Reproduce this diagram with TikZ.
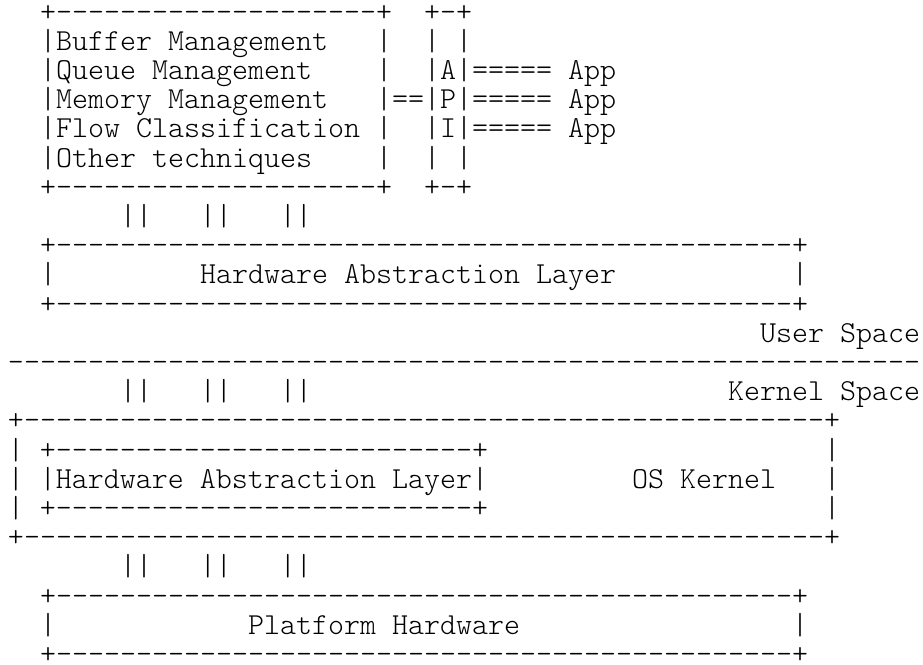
\documentclass[tikz,border=0pt]{standalone}
\usepackage{fontspec}
\newfontfamily\asciifont{lmmonolt10-regular.otf}[Ligatures=TeXOff]
\newlength{\chw}\setlength{\chw}{16pt}
\newcommand{\sk}[1]{\hspace*{#1\chw}}
\tikzset{asc/.style={anchor=base west,inner sep=0pt,outer sep=0pt,font=\asciifont\fontsize{30.48pt}{29.2pt}\selectfont}}
\begin{document}
\begin{tikzpicture}[x=1pt,y=1pt,yscale=-1,xscale=1]
\useasboundingbox (0,0) rectangle (923,664);

% Management box and API
\draw (40,21.0) node [asc] (row0) {+--------------------+\sk{2}+-+};
\draw (40,50.2) node [asc] (row1) {|Buffer Management\sk{3}|\sk{2}|\sk{1}|};
\draw (40,79.4) node [asc] (row2) {|Queue Management\sk{4}|\sk{2}|A|===== App};
\draw (40,108.6) node [asc] (row3) {|Memory Management\sk{3}|==|P|===== App};
\draw (40,137.8) node [asc] (row4) {|Flow Classification\sk{1}|\sk{2}|I|===== App};
\draw (40,167.0) node [asc] (row5) {|Other techniques\sk{4}|\sk{2}|\sk{1}|};
\draw (40,196.2) node [asc] (row6) {+--------------------+\sk{2}+-+};
% Links
\draw (120,225.4) node [asc] (row7) {||\sk{3}||\sk{3}||};
% Hardware Abstraction Layer (user)
\draw (40,254.6) node [asc] (row8) {+----------------------------------------------+};
\draw (40,283.8) node [asc] (row9) {|\sk{9}Hardware Abstraction Layer\sk{11}|};
\draw (40,313.0) node [asc] (row10) {+----------------------------------------------+};
% User / Kernel split
\draw (760,342.2) node [asc] (row11) {User Space};
\draw (8,371.4) node [asc] (row12) {---------------------------------------------------------};
\draw (120,400.6) node [asc] (row13) {||\sk{3}||\sk{3}||\sk{26}Kernel Space};
% OS Kernel
\draw (8,429.8) node [asc] (row14) {+--------------------------------------------------+};
\draw (8,459.0) node [asc] (row15) {|\sk{1}+--------------------------+\sk{21}|};
\draw (8,488.2) node [asc] (row16) {|\sk{1}|Hardware Abstraction Layer|\sk{9}OS Kernel\sk{3}|};
\draw (8,517.4) node [asc] (row17) {|\sk{1}+--------------------------+\sk{21}|};
\draw (8,546.6) node [asc] (row18) {+--------------------------------------------------+};
% Links
\draw (120,575.8) node [asc] (row19) {||\sk{3}||\sk{3}||};
% Platform Hardware
\draw (40,605.0) node [asc] (row20) {+----------------------------------------------+};
\draw (40,634.2) node [asc] (row21) {|\sk{12}Platform Hardware\sk{17}|};
\draw (40,663.4) node [asc] (row22) {+----------------------------------------------+};

\end{tikzpicture}
\end{document}
